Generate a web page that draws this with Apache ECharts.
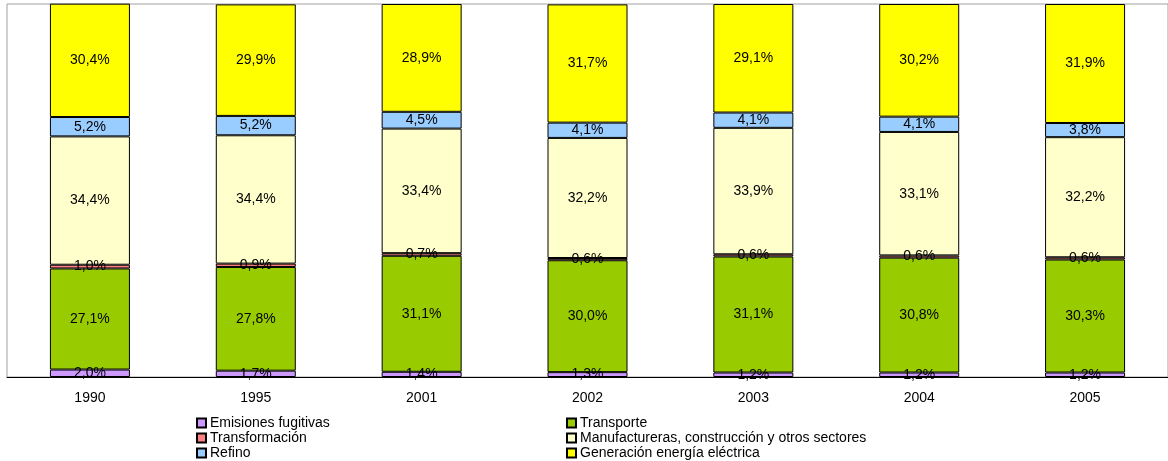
<!DOCTYPE html>
<html>
<head>
<meta charset="utf-8">
<script src="https://cdn.jsdelivr.net/npm/echarts@6/dist/echarts.min.js"></script>
<style>
  html, body { margin: 0; padding: 0; background: #fff; }
  #chart { width: 1168px; height: 461px; }
</style>
</head>
<body>
<div id="chart"></div>
<script>
// años
const years = ['1990', '1995', '2001', '2002', '2003', '2004', '2005']

// porcentajes por sector (de abajo hacia arriba)
const emisionesFugitivas = [2.0, 1.7, 1.4, 1.3, 1.2, 1.2, 1.2]
const transporte = [27.1, 27.8, 31.1, 30.0, 31.1, 30.8, 30.3]
const transformacion = [1.0, 0.9, 0.7, 0.6, 0.6, 0.6, 0.6]
const manufactureras = [34.4, 34.4, 33.4, 32.2, 33.9, 33.1, 32.2]
const refino = [5.2, 5.2, 4.5, 4.1, 4.1, 4.1, 3.8]
const generacion = [30.4, 29.9, 28.9, 31.7, 29.1, 30.2, 31.9]

const chart = echarts.init(document.getElementById('chart'))

const fmt = (p) => p.value.toFixed(1).replace('.', ',') + '%'

const mkSeries = (name, data, color) => ({
  name,
  type: 'bar',
  stack: 'total',
  data,
  barWidth: 80,
  itemStyle: { color, borderColor: '#000', borderWidth: 1 },
  label: {
    show: true,
    position: 'inside',
    formatter: fmt,
    color: '#000',
    fontSize: 14,
    fontFamily: 'Liberation Sans'
  },
  emphasis: { disabled: true }
})

const legendBase = {
  orient: 'vertical',
  top: 416,
  height: 60,
  padding: 0,
  itemWidth: 9,
  itemHeight: 9,
  itemGap: 1,
  icon: 'rect',
  textStyle: { fontSize: 14, color: '#000', padding: [0, 0, 0, -1] }
}

const option = {
  animation: false,
  textStyle: { fontFamily: 'Liberation Sans' },
  grid: {
    left: 7,
    top: 4,
    width: 1162,
    bottom: 84,
    show: true,
    borderColor: '#a0a0a0',
    borderWidth: 1
  },
  legend: [
    Object.assign({}, legendBase, {
      left: 196,
      data: ['Emisiones fugitivas', 'Transformación', 'Refino']
    }),
    Object.assign({}, legendBase, {
      left: 566,
      data: ['Transporte', 'Manufactureras, construcción y otros sectores', 'Generación energía eléctrica']
    })
  ],
  xAxis: {
    type: 'category',
    data: years,
    axisLine: { lineStyle: { color: '#000' } },
    axisTick: { length: 5, lineStyle: { color: '#000' } },
    axisLabel: { color: '#000', fontSize: 14, margin: 14 }
  },
  yAxis: {
    type: 'value',
    min: 0,
    max: 100,
    show: false,
    splitLine: { show: false }
  },
  series: [
    mkSeries('Emisiones fugitivas', emisionesFugitivas, '#cc99ff'),
    mkSeries('Transporte', transporte, '#99cc00'),
    mkSeries('Transformación', transformacion, '#ff8080'),
    mkSeries('Manufactureras, construcción y otros sectores', manufactureras, '#ffffcc'),
    mkSeries('Refino', refino, '#99ccff'),
    mkSeries('Generación energía eléctrica', generacion, '#ffff00')
  ]
}

chart.setOption(option)
</script>
</body>
</html>
